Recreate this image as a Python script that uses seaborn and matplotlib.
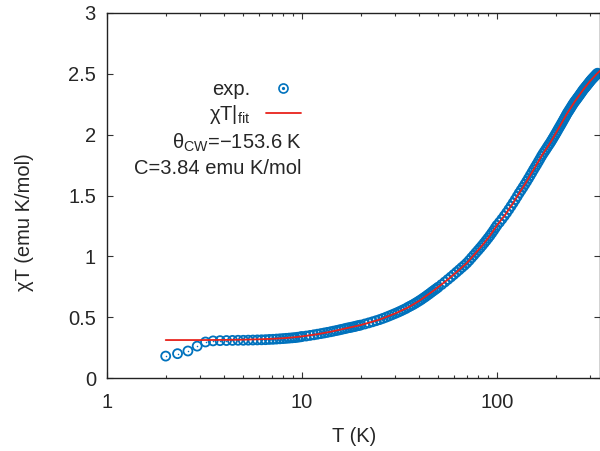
import numpy as np
import pandas as pd
import matplotlib
matplotlib.use("Agg")
import matplotlib.pyplot as plt
from matplotlib.lines import Line2D
from matplotlib.legend_handler import HandlerTuple
import seaborn as sns

# ---------------- data ----------------
exp_T = [2.0, 2.3, 2.6, 2.9, 3.2, 3.5, 3.8, 4.1, 4.4, 4.7, 5.0, 5.3, 5.6, 5.9, 6.2, 6.5, 6.8,
         7.1, 7.4, 7.7, 8.0, 8.3, 8.6, 8.9, 9.2, 9.5, 9.8,
         10.0, 10.5, 11.0, 11.5, 12.0, 12.5, 13.0, 13.5, 14.0, 14.5, 15.0, 15.5, 16.0, 16.5,
         17.0, 17.5, 18.0, 18.5, 19.0, 19.5, 20.0,
         21, 22, 23, 24, 25, 26, 27, 28, 29, 30, 31, 32, 33, 34, 35, 36, 37, 38, 39, 40,
         41, 42, 43, 44, 45, 46, 47, 48, 49, 50,
         52, 54, 56, 58, 60, 62, 64, 66, 68, 70, 72, 74, 76, 78, 80, 82, 84, 86, 88, 90,
         92, 94, 96, 98, 100,
         103, 106, 109, 112, 115, 118, 121, 124, 127, 130, 133, 136, 139, 142, 145, 148,
         151, 154, 157, 160, 163, 166, 169, 172, 175, 178, 181, 184, 187, 190, 193, 196,
         199, 202, 205, 208, 211, 214, 217, 220, 223, 226, 229, 232, 235, 238, 241, 244,
         247, 250, 253, 256, 259, 262, 265, 268, 271, 274, 277, 280, 283, 286, 289, 292,
         295, 298, 301, 304, 307, 310, 313, 316, 319, 322, 325, 328]
exp_chiT = [0.180, 0.200, 0.222, 0.262, 0.296, 0.305, 0.307, 0.308, 0.309, 0.310, 0.310,
            0.311, 0.312, 0.313, 0.314, 0.315, 0.317, 0.318, 0.320, 0.322, 0.324, 0.326,
            0.328, 0.330, 0.332, 0.335, 0.338,
            0.341, 0.345, 0.350, 0.355, 0.360, 0.365, 0.370, 0.375, 0.380, 0.385, 0.390,
            0.395, 0.400, 0.405, 0.410, 0.414, 0.418, 0.422, 0.427, 0.431, 0.435,
            0.444, 0.453, 0.462, 0.471, 0.480, 0.490, 0.500, 0.510, 0.520, 0.530, 0.540,
            0.550, 0.560, 0.570, 0.582, 0.592, 0.602, 0.613, 0.624, 0.635,
            0.646, 0.658, 0.669, 0.681, 0.692, 0.704, 0.715, 0.726, 0.736, 0.747,
            0.768, 0.789, 0.810, 0.830, 0.850, 0.870, 0.889, 0.908, 0.926, 0.945, 0.966,
            0.988, 1.009, 1.030, 1.050, 1.070, 1.090, 1.110, 1.130, 1.150, 1.170, 1.191,
            1.212, 1.234, 1.255,
            1.280, 1.306, 1.332, 1.358, 1.385, 1.412, 1.439, 1.466, 1.493, 1.520, 1.544,
            1.568, 1.592, 1.616, 1.640, 1.664, 1.688, 1.712, 1.734, 1.756, 1.778, 1.800,
            1.822, 1.842, 1.860, 1.878, 1.896, 1.914, 1.930, 1.948, 1.966, 1.984, 2.002,
            2.020, 2.038, 2.056, 2.073, 2.090, 2.107, 2.124, 2.141, 2.158, 2.175, 2.189,
            2.203, 2.217, 2.231, 2.245, 2.258, 2.270, 2.281, 2.292, 2.303, 2.314, 2.325,
            2.336, 2.347, 2.358, 2.369, 2.378, 2.387, 2.396, 2.405, 2.414, 2.423, 2.432,
            2.441, 2.449, 2.457, 2.464, 2.471, 2.478, 2.485, 2.492, 2.499, 2.505]

fit_T = [2, 3, 4, 5, 6, 7, 8, 9, 10, 12, 14, 17, 20, 25, 30, 35, 40, 47, 55, 62, 70, 78,
         85, 92, 100, 110, 120, 130, 140, 155, 170, 187, 205, 228, 250, 277, 300, 325, 340]
fit_chiT = [0.312, 0.312, 0.313, 0.315, 0.318, 0.322, 0.327, 0.334, 0.342, 0.360, 0.380,
            0.410, 0.435, 0.480, 0.530, 0.580, 0.635, 0.715, 0.800, 0.870, 0.945, 1.030,
            1.100, 1.170, 1.255, 1.340, 1.430, 1.520, 1.600, 1.720, 1.830, 1.930, 2.040,
            2.170, 2.270, 2.370, 2.440, 2.500, 2.530]

x_ticks = [1, 10, 100]
x_tick_labels = ["1", "10", "100"]
y_ticks = [0, 0.5, 1, 1.5, 2, 2.5, 3]
y_tick_labels = ["0", "0.5", "1", "1.5", "2", "2.5", "3"]

legend_labels = ["exp.", "\u03c7T|$_{\\rm fit}$"]
annot_lines = ["\u03b8$_{\\rm CW}$=\u2212153.6 K", "C=3.84 emu K/mol"]
x_label = "T (K)"
y_label = "\u03c7T (emu K/mol)"

BLUE = "#0072bd"
RED = "#e8221b"

# ---------------- style ----------------
sns.set_style("ticks")
plt.rcParams["font.family"] = ["Liberation Sans", "DejaVu Sans"]
plt.rcParams["mathtext.fontset"] = "custom"
plt.rcParams["mathtext.rm"] = "Liberation Sans"
plt.rcParams["mathtext.it"] = "Liberation Sans:italic"
plt.rcParams["axes.unicode_minus"] = True
FS = 14.5

fig = plt.figure(figsize=(6.0, 4.51), dpi=100)
ax = fig.add_axes([107 / 600, 73 / 451, 1 - 107 / 600, 365 / 451])

df_exp = pd.DataFrame({"T": exp_T, "chiT": exp_chiT})
df_fit = pd.DataFrame({"T": fit_T, "chiT": fit_chiT})

sns.scatterplot(data=df_exp, x="T", y="chiT", ax=ax, marker="o", s=42,
                facecolors="none", edgecolor=BLUE, linewidth=1.3, zorder=2, legend=False)
sns.scatterplot(data=df_exp, x="T", y="chiT", ax=ax, marker="o", s=1.2,
                color=BLUE, linewidth=0, zorder=2, legend=False)
sns.lineplot(data=df_fit, x="T", y="chiT", ax=ax, color=RED, linewidth=1.3,
             zorder=3, legend=False)

ax.set_xscale("log")
ax.set_xlim(1, 10 ** (493 / 195))
ax.set_ylim(0, 3)
ax.set_xticks(x_ticks)
ax.set_xticklabels(x_tick_labels)
ax.set_yticks(y_ticks)
ax.set_yticklabels(y_tick_labels)

ax.tick_params(axis="both", which="both", direction="in", top=True, right=True,
               labelsize=FS, color="#333333", width=0.8)
ax.tick_params(axis="x", which="major", length=4.5, pad=11)
ax.tick_params(axis="x", which="minor", length=2.3)
ax.tick_params(axis="y", which="major", length=4.5, pad=8)
for s in ax.spines.values():
    s.set_linewidth(1.0)
    s.set_color("#222222")

ax.set_xlabel(x_label, fontsize=FS)
ax.set_ylabel(y_label, fontsize=FS)
ax.yaxis.label.set_verticalalignment("center")
ax.yaxis.set_label_coords((25 - 107) / 493, (378 - 222) / 365)
ax.xaxis.label.set_verticalalignment("center")
ax.xaxis.set_label_coords((354 - 107) / 493, (378 - 437) / 365)

# legend (gnuplot style: text left of sample)
h_exp = (Line2D([], [], linestyle="none", marker="o", markersize=6.5, markerfacecolor="none",
                markeredgecolor=BLUE, markeredgewidth=1.2),
         Line2D([], [], linestyle="none", marker="o", markersize=1.3, color=BLUE))
h_fit = Line2D([], [], color=RED, linewidth=1.3)
leg = ax.legend([h_exp, h_fit], legend_labels, handler_map={tuple: HandlerTuple(ndivide=1)},
                markerfirst=False, frameon=False, fontsize=FS, loc="upper left",
                bbox_to_anchor=((209 - 107) / 493, (378 - 80) / 365), handlelength=1.7,
                handletextpad=0.8, labelspacing=0.2, borderaxespad=0, borderpad=0)

fig.text(302 / 600, 1 - 143 / 451, annot_lines[0], ha="right", va="center", fontsize=FS)
fig.text(302 / 600, 1 - 168 / 451, annot_lines[1], ha="right", va="center", fontsize=FS)

fig.savefig("out.png", dpi=100)
